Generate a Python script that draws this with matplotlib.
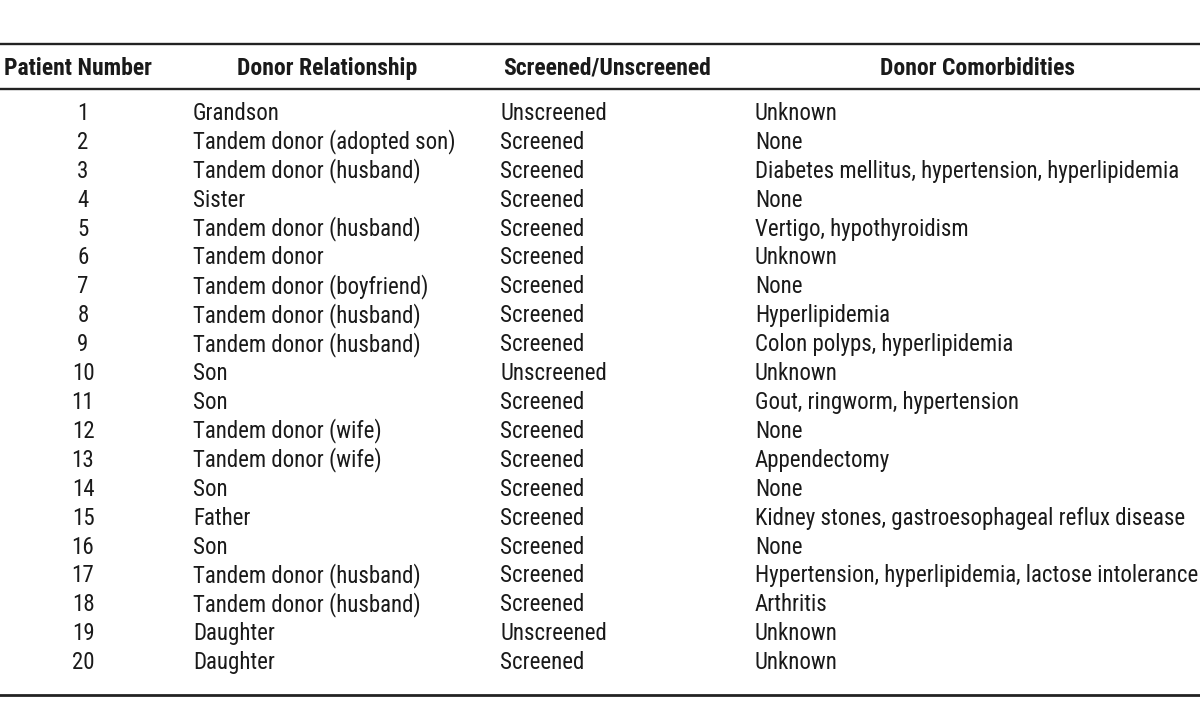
import matplotlib.pyplot as plt

headers = ["Patient Number", "Donor Relationship", "Screened/Unscreened", "Donor Comorbidities"]
patient_numbers = list(range(1, 21))
relationships = [
    "Grandson", "Tandem donor (adopted son)", "Tandem donor (husband)", "Sister",
    "Tandem donor (husband)", "Tandem donor", "Tandem donor (boyfriend)",
    "Tandem donor (husband)", "Tandem donor (husband)", "Son", "Son",
    "Tandem donor (wife)", "Tandem donor (wife)", "Son", "Father", "Son",
    "Tandem donor (husband)", "Tandem donor (husband)", "Daughter", "Daughter",
]
screening = [
    "Unscreened", "Screened", "Screened", "Screened", "Screened", "Screened",
    "Screened", "Screened", "Screened", "Unscreened", "Screened", "Screened",
    "Screened", "Screened", "Screened", "Screened", "Screened", "Screened",
    "Unscreened", "Screened",
]
comorbidities = [
    "Unknown", "None", "Diabetes mellitus, hypertension, hyperlipidemia", "None",
    "Vertigo, hypothyroidism", "Unknown", "None", "Hyperlipidemia",
    "Colon polyps, hyperlipidemia", "Unknown", "Gout, ringworm, hypertension",
    "None", "Appendectomy", "None", "Kidney stones, gastroesophageal reflux disease",
    "None", "Hypertension, hyperlipidemia, lactose intolerance", "Arthritis",
    "Unknown", "Unknown",
]

font = ["Roboto Condensed", "DejaVu Sans"]
ink = "#1a1a1a"

fig = plt.figure(figsize=(12, 7.21), dpi=100)
ax = fig.add_axes([0, 0, 1, 1])
ax.set_xlim(0, 1200)
ax.set_ylim(721, 0)
ax.axis("off")

# horizontal rules
ax.plot([0, 1200], [44, 44], color="#222222", lw=1.7)
ax.plot([0, 1200], [89, 89], color="#222222", lw=1.7)
ax.plot([0, 1200], [695, 695], color="#222222", lw=2.0)

# header
hx = [78, 327, 607, 977]
for x, h in zip(hx, headers):
    ax.text(x, 75, h, ha="center", va="baseline", fontsize=17, fontweight="bold",
            family=font, color=ink)

# rows
y0, dy = 120, 28.9
fs = 16.5
for i in range(len(patient_numbers)):
    y = y0 + i * dy
    ax.text(83, y, str(patient_numbers[i]), ha="center", va="baseline",
            fontsize=fs, family=font, color=ink)
    ax.text(193, y, relationships[i], ha="left", va="baseline",
            fontsize=fs, family=font, color=ink)
    ax.text(500, y, screening[i], ha="left", va="baseline",
            fontsize=fs, family=font, color=ink)
    ax.text(755, y, comorbidities[i], ha="left", va="baseline",
            fontsize=fs, family=font, color=ink)

fig.savefig("out.png", dpi=100)
